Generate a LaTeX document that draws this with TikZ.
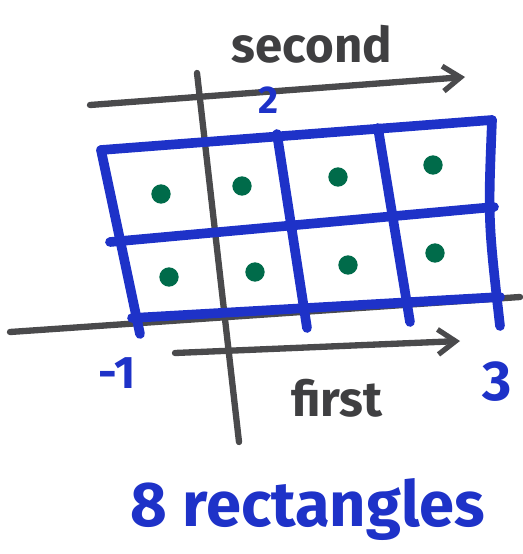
\documentclass[tikz,border=0pt]{standalone}
\usepackage{fontspec}
\setmainfont{Fira Sans}
\usetikzlibrary{arrows.meta}
\definecolor{tinta}{HTML}{1E32C8}
\definecolor{lapiz}{HTML}{4A4A4C}
\definecolor{punto}{HTML}{006B4A}

\begin{document}
\begin{tikzpicture}[x=0.02cm, y=-0.02cm,
  rejilla/.style={draw=tinta, line width=5.5pt, line cap=round, line join=round},
  eje/.style={draw=lapiz, line width=3.6pt, line cap=round},
  flechaeje/.style={eje, -{Straight Barb[length=3.5mm, width=5mm, line width=3pt]}},
  marca/.style={text=tinta, font=\fontsize{26}{28}\selectfont\bfseries, inner sep=0pt},
  rotulo/.style={text=lapiz!85!black, font=\fontsize{28}{30}\selectfont\bfseries, inner sep=0pt},
  centro/.style={circle, fill=punto, minimum size=11pt, inner sep=0pt}
]
  \useasboundingbox (0,0) rectangle (522,554);
  % esquinas de la rejilla
  \coordinate (tl) at (101,150);  \coordinate (tr) at (492,120);
  \coordinate (ml) at (110,242);  \coordinate (mr) at (494,207);
  \coordinate (bl) at (132,318);  \coordinate (br) at (500,297);
  \coordinate (bll) at (140,334); \coordinate (brr) at (500,326);
  \coordinate (v2t) at (277,134); \coordinate (v2b) at (307,328);
  \coordinate (v3t) at (378,128); \coordinate (v3b) at (410,322);
  % ejes
  \coordinate (hizq) at (10,332);  \coordinate (hder) at (520,297);
  \coordinate (varr) at (197,73);  \coordinate (vab) at (239,442);
  \draw[eje] (hizq) -- (hder);
  \draw[eje] (varr) -- (vab);
  % rejilla
  \draw[rejilla] (tl) -- (tr);
  \draw[rejilla] (ml) -- (mr);
  \draw[rejilla] (bl) -- (br);
  \draw[rejilla] (tl) .. controls (118,230) .. (bll);
  \draw[rejilla] (tr) .. controls (488,220) .. (brr);
  \draw[rejilla] (v2t) -- (v2b);
  \draw[rejilla] (v3t) -- (v3b);
  % centros
  \foreach \px/\py [count=\i] in {161/194, 242/186, 338/177, 433/165,
                                  169/277, 255/272, 348/265, 435/253}
    \node[centro] (c\i) at (\px,\py) {};
  % flechas
  \coordinate (sa) at (90,105);  \coordinate (sb) at (465,77);
  \coordinate (fa) at (175,353); \coordinate (fb) at (460,341);
  \draw[flechaeje] (sa) -- (sb);
  \draw[flechaeje] (fa) -- (fb);
  % rotulos
  \node[rotulo] (second) at (312,44) {second};
  \node[rotulo] (first) at (337,398) {first};
  \node[marca, font=\fontsize{22}{24}\selectfont\bfseries] (dos) at (268,100) {2};
  \node[marca] (menos) at (117,373) {-1};
  \node[marca, font=\fontsize{32}{34}\selectfont\bfseries] (tres) at (497,382) {3};
  \node[text=tinta, font=\fontsize{36}{40}\selectfont\bfseries, inner sep=0pt] (total) at (308,510) {8 rectangles};
\end{tikzpicture}
\end{document}
